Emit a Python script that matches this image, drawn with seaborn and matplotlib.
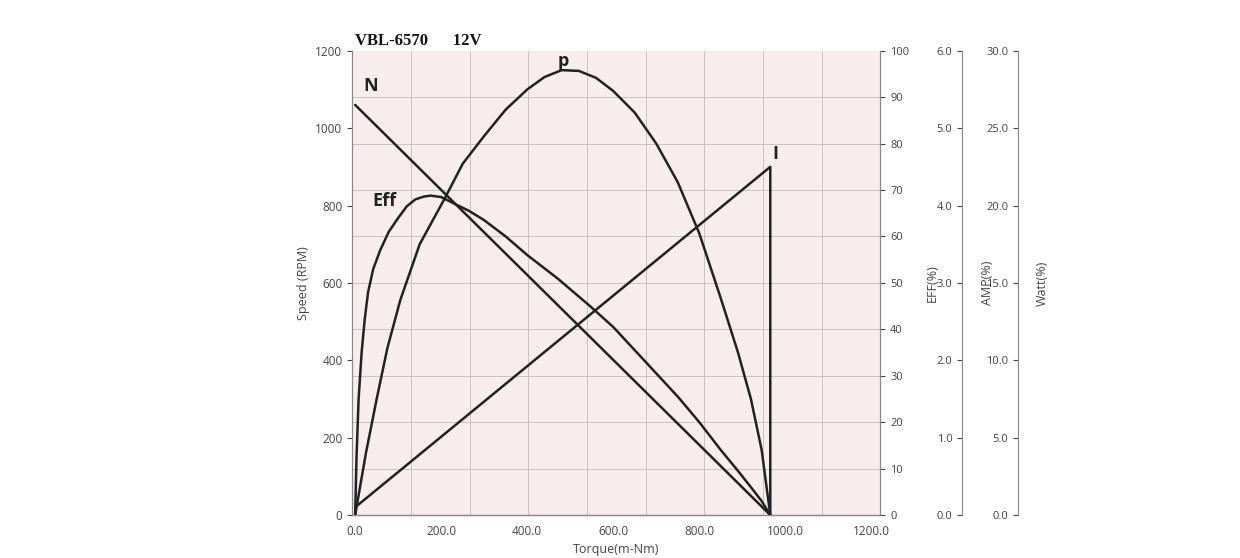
import matplotlib.pyplot as plt
import seaborn as sns

sns.set_style("white")
plt.rcParams['font.family'] = ['Open Sans', 'DejaVu Sans']

# Đường N: tốc độ (RPM) theo mô-men
n_torque = [0, 965]
n_speed = [1060, 0]

# Đường I: dòng điện (A)
i_torque = [0, 965, 965]
i_amp = [0.1, 4.5, 0.0]

# Đường Eff: hiệu suất (%)
eff_torque = [0, 3, 8, 15, 22, 30, 42, 58, 78, 100, 120, 140, 160, 175, 200, 232, 265, 300,
              350, 400, 470, 546, 600, 650, 700, 750, 800, 850, 890, 920, 945, 965]
eff_pct = [0, 12, 25, 35, 42, 48, 53, 57, 61, 64, 66.5, 68, 68.6, 68.8, 68.5, 67, 65.5, 63.5,
           60, 56, 51, 45, 40.5, 35.5, 30.5, 25.5, 20, 14, 9.5, 6, 3, 0]

# Đường P: công suất (W)
p_torque = [0, 25, 50, 75, 105, 150, 209, 250, 300, 350, 400, 440, 480, 520, 560, 600, 650,
            700, 750, 800, 850, 890, 920, 945, 965]
p_watt = [0, 4, 7.5, 10.8, 13.9, 17.5, 20.5, 22.7, 24.5, 26.2, 27.5, 28.3, 28.75, 28.7, 28.25,
          27.4, 26, 24, 21.5, 18.2, 14, 10.5, 7.5, 4.2, 0]

x_ticks = [0, 200, 400, 600, 800, 1000, 1200]

fig = plt.figure(figsize=(12.4, 5.58), dpi=100)
ax = fig.add_axes([0.284, 0.077, 0.426, 0.832])
ax.set_facecolor("#f8eded")
ax.set_xlim(-7, 1221)
ax.set_ylim(0, 1200)

# lưới riêng: 9 cột x 10 hàng
for k in range(1, 9):
    ax.axvline(-7 + k * 1228 / 9, color="#c8c2c2", lw=0.7, zorder=0)
for k in range(1, 10):
    ax.axhline(k * 120, color="#c8c2c2", lw=0.7, zorder=0)

ax.set_xticks(x_ticks)
ax.set_xticklabels([f"{v:.1f}" for v in x_ticks], fontsize=8.5, color="#444")
ax.set_yticks(range(0, 1201, 200))
ax.tick_params(axis="y", labelsize=8.5, colors="#444")
ax.set_xlabel("Torque(m-Nm)", fontsize=9, color="#444")
ax.set_ylabel("Speed (RPM)", fontsize=9, color="#444")
for s in ax.spines.values():
    s.set_color("#888")
    s.set_linewidth(0.8)
ax.spines["top"].set_visible(False)

sns.lineplot(x=n_torque, y=n_speed, ax=ax, color="#222", lw=1.8)

ax_eff = ax.twinx()
ax_eff.set_ylim(0, 100)
ax_eff.set_yticks(range(0, 101, 10))
ax_eff.tick_params(labelsize=8, colors="#444")
ax_eff.set_ylabel("EFF(%)", fontsize=9, color="#444")
ax_eff.yaxis.set_label_coords(1.085, 0.5)
sns.lineplot(x=eff_torque, y=eff_pct, ax=ax_eff, color="#222", lw=1.8)

ax_amp = ax.twinx()
ax_amp.set_ylim(0, 6)
ax_amp.spines["right"].set_visible(False)
ax_amp.spines["left"].set_visible(True)
ax_amp.spines["left"].set_position(("axes", 1.155))
ax_amp.yaxis.set_ticks_position("left")
ax_amp.set_yticks([0, 1, 2, 3, 4, 5, 6])
ax_amp.set_yticklabels([f"{v:.1f}" for v in range(7)])
ax_amp.tick_params(labelsize=8, colors="#444")
ax_amp.set_ylabel("AMP(%)", fontsize=9, color="#444")
ax_amp.yaxis.set_label_coords(1.19, 0.5)
sns.lineplot(x=i_torque, y=i_amp, ax=ax_amp, color="#222", lw=1.8,
             sort=False, estimator=None)

ax_w = ax.twinx()
ax_w.set_ylim(0, 30)
ax_w.spines["right"].set_visible(False)
ax_w.spines["left"].set_visible(True)
ax_w.spines["left"].set_position(("axes", 1.261))
ax_w.yaxis.set_ticks_position("left")
ax_w.set_yticks(range(0, 31, 5))
ax_w.set_yticklabels([f"{v:.1f}" for v in range(0, 31, 5)])
ax_w.tick_params(labelsize=8, colors="#444")
ax_w.set_ylabel("Watt(%)", fontsize=9, color="#444")
ax_w.yaxis.set_label_coords(1.295, 0.5)
sns.lineplot(x=p_torque, y=p_watt, ax=ax_w, color="#222", lw=1.8)

for a in (ax_eff, ax_amp, ax_w):
    for s in a.spines.values():
        s.set_color("#888")
        s.set_linewidth(0.8)
    a.spines["top"].set_visible(False)

ax.text(20, 1095, "N", fontsize=13, fontweight="bold", color="#222")
ax.text(470, 1160, "p", fontsize=13, fontweight="bold", color="#222")
ax.text(40, 800, "Eff", fontsize=13, fontweight="bold", color="#222")
ax.text(970, 920, "I", fontsize=13, fontweight="bold", color="#222")
ax.text(0, 1215, "VBL-6570      12V", fontsize=12, fontweight="bold",
        family="Liberation Serif", color="#111")

plt.savefig("out.png", dpi=100)
